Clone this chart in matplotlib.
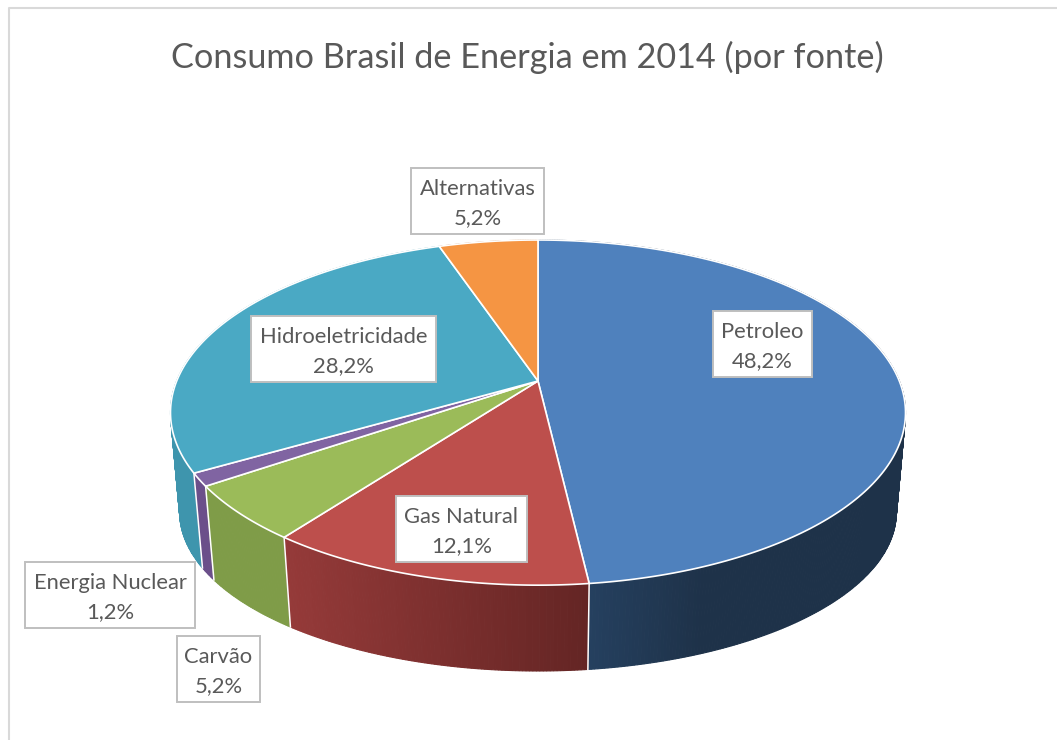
import numpy as np
from matplotlib import pyplot as plt
from matplotlib.colors import to_rgb
from matplotlib.patches import Rectangle

plt.rcParams['font.family'] = ['Lato', 'DejaVu Sans']

# the data
categories = ['Petroleo', 'Gas Natural', 'Carvão', 'Energia Nuclear', 'Hidroeletricidade', 'Alternativas']
percent = [48.2, 12.1, 5.2, 1.2, 28.2, 5.2]
percent_labels = ['48,2%', '12,1%', '5,2%', '1,2%', '28,2%', '5,2%']
title = 'Consumo Brasil de Energia em 2014 (por fonte)'

# top colour of the slices, then dark and light wall colour
top_colors = ['#4f81bd', '#bd4f4c', '#9bbb59', '#8064a2', '#4aa9c4', '#f59543']
wall_dark = ['#1e3249', '#642524', '#7f9c48', '#6b4f8a', '#3e95ad', '#b86d30']
wall_light = ['#25405f', '#953a39', '#7f9c48', '#6b4f8a', '#3e95ad', '#b86d30']
# pixel range of x over which each wall goes from light to dark
shade_x = [(590, 700), (290, 588), (0, 1), (0, 1), (0, 1), (0, 1)]

# label boxes: left, top, right, bottom in pixels
boxes = [(713, 311, 812, 377), (396, 496, 527, 562), (177, 636, 260, 702),
         (25, 562, 195, 628), (251, 316, 436, 382), (411, 168, 544, 234)]

# pie look, pixels
cx, cy = 538, 381
A, B, k = 361.3, 166.8, 0.183


def top_xy(theta):
    # perspective view of the disc, theta clockwise from the back
    u, v = np.sin(theta), np.cos(theta)
    w = 1 + k * v
    return cx + A * u / w, cy - B * v / w


def bottom_xy(theta):
    x, y = top_xy(theta)
    return cx + 0.975 * (x - cx), 669 + 0.92 * (y - 583)


fig = plt.figure(figsize=(10.57, 7.4), dpi=100)
ax = fig.add_axes([0, 0, 1, 1])
ax.set_xlim(0, 1057)
ax.set_ylim(740, 0)
ax.axis('off')

# chart frame, cut off at the right and the bottom of the picture
ax.plot([9, 9, 1057], [740, 8, 8], color='#d9d9d9', lw=1.5)

total = sum(percent)
edges = np.concatenate([[0], np.cumsum(percent)]) / total * 2 * np.pi

# walls, back to front
quads = []
for i in range(len(percent)):
    t = np.linspace(edges[i], edges[i + 1], max(3, int(percent[i] * 8)))
    for j in range(len(t) - 1):
        x1, y1 = top_xy(t[j:j + 2])
        x2, y2 = bottom_xy(t[j:j + 2])
        xs = [x1[0], x1[1], x2[1], x2[0]]
        ys = [y1[0], y1[1], y2[1], y2[0]]
        lo, hi = shade_x[i]
        f = np.clip((np.mean(xs) - lo) / (hi - lo), 0, 1)
        col = np.array(to_rgb(wall_light[i])) * (1 - f) + np.array(to_rgb(wall_dark[i])) * f
        quads.append((np.cos(t[j]), xs, ys, col))
quads.sort(key=lambda q: -q[0])
for q in quads:
    ax.fill(q[1], q[2], color=q[3], lw=0.8, zorder=2)

# white lines where walls meet
for e in edges[[1, 2, 3, 4]]:
    x1, y1 = top_xy(e)
    x2, y2 = bottom_xy(e)
    ax.plot([x1, x2], [y1, y2], color='white', lw=1.1, zorder=3)

# top of the pie
for i in range(len(percent)):
    t = np.linspace(edges[i], edges[i + 1], 200)
    x, y = top_xy(t)
    ax.fill(np.r_[cx, x], np.r_[cy, y], facecolor=top_colors[i], edgecolor='white',
            lw=1.2, joinstyle='round', zorder=4)

# labels
for name, pct, box in zip(categories, percent_labels, boxes):
    l, t, r, b = box
    ax.add_patch(Rectangle((l, t), r - l, b - t, facecolor='white', edgecolor='#bfbfbf', lw=1.4, zorder=5))
    ax.text((l + r) / 2, t + 21, name, ha='center', va='center', fontsize=15.8, color='#595959', zorder=6)
    ax.text((l + r) / 2, t + 50, pct, ha='center', va='center', fontsize=15.8, color='#595959', zorder=6)

ax.text(527.5, 57, title, ha='center', va='center', fontsize=24.7, color='#595959')

fig.savefig('out.png', dpi=100)
